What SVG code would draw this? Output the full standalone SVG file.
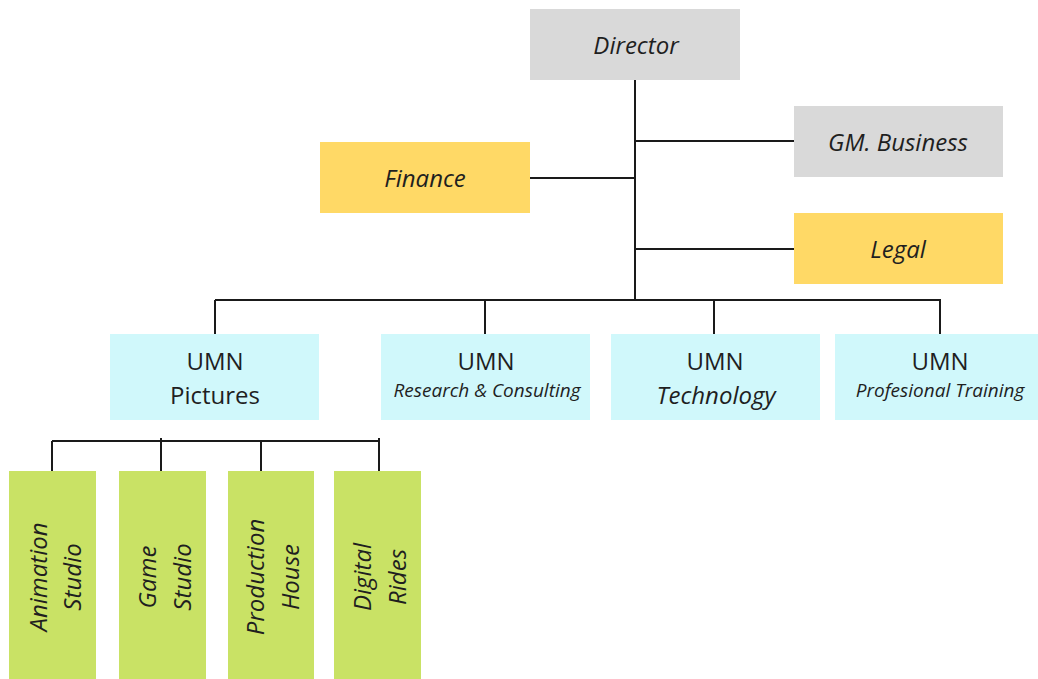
<svg xmlns="http://www.w3.org/2000/svg" width="1038" height="679" viewBox="0 0 1038 679">
<style>
text{font-family:"Open Sans","Noto Sans",sans-serif;fill:#1f1f1f;text-anchor:middle}
.it{font-style:italic}
.gray{fill:#d9d9d9}
.yel{fill:#ffd966}
.cyan{fill:#d0f8fb}
.grn{fill:#c9e265}
.ln{stroke:#1a1a1a;stroke-width:2;fill:none}
.big{font-size:24px}
.sm{font-size:19px}
</style>
<rect width="1038" height="679" fill="#ffffff"/>
<g id="connectors" class="ln">
<path d="M635 80V300M635 141H794M530 178H635M635 249H794"/>
<path d="M215 300H941M215 300V334M485 300V334M714 300V334M940 300V334"/>
<path d="M52 441H380M52 441V471M161 438V471M261 441V471M379 438V471"/>
</g>
<g id="director"><rect class="gray" x="530" y="9" width="210" height="71"/><text class="it big" x="636" y="54">Director</text></g>
<g id="gm-business"><rect class="gray" x="794" y="106" width="209" height="71"/><text class="it big" x="898" y="151">GM. Business</text></g>
<g id="finance"><rect class="yel" x="320" y="142" width="210" height="71"/><text class="it big" x="425" y="187">Finance</text></g>
<g id="legal"><rect class="yel" x="794" y="213" width="209" height="71"/><text class="it big" x="898" y="258">Legal</text></g>
<g id="umn-pictures"><rect class="cyan" x="110" y="334" width="209" height="86"/><text class="big" x="215" y="370">UMN</text><text class="big" x="215" y="404">Pictures</text></g>
<g id="umn-research"><rect class="cyan" x="381" y="334" width="209" height="86"/><text class="big" x="486" y="370">UMN</text><text class="it sm" x="487" y="397">Research &amp; Consulting</text></g>
<g id="umn-technology"><rect class="cyan" x="611" y="334" width="209" height="86"/><text class="big" x="715" y="370">UMN</text><text class="it big" x="716" y="404">Technology</text></g>
<g id="umn-training"><rect class="cyan" x="835" y="334" width="203" height="86"/><text class="big" x="940" y="370">UMN</text><text class="it sm" x="940" y="397">Profesional Training</text></g>
<g id="animation-studio"><rect class="grn" x="9" y="471" width="87" height="208"/><g transform="translate(53 577) rotate(-90)"><text class="it big" y="-6">Animation</text><text class="it big" y="28">Studio</text></g></g>
<g id="game-studio"><rect class="grn" x="119" y="471" width="87" height="208"/><g transform="translate(163 577) rotate(-90)"><text class="it big" y="-7">Game</text><text class="it big" y="28">Studio</text></g></g>
<g id="production-house"><rect class="grn" x="228" y="471" width="86" height="208"/><g transform="translate(271 577) rotate(-90)"><text class="it big" y="-7">Production</text><text class="it big" y="28">House</text></g></g>
<g id="digital-rides"><rect class="grn" x="334" y="471" width="87" height="208"/><g transform="translate(378 577) rotate(-90)"><text class="it big" y="-7">Digital</text><text class="it big" y="28">Rides</text></g></g>
</svg>
